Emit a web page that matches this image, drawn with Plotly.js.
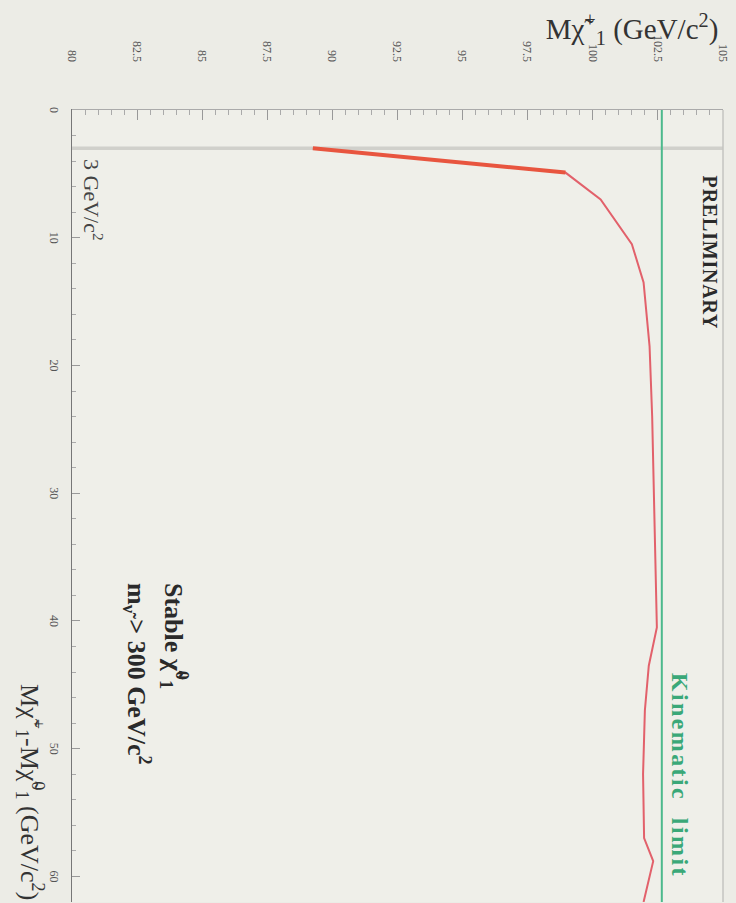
<!DOCTYPE html>
<html>
<head>
<meta charset="utf-8">
<script src="https://cdn.plot.ly/plotly-3.0.1.min.js"></script>
<style>
  html, body { margin: 0; padding: 0; width: 736px; height: 903px; overflow: hidden; background: #ecece6; }
  #chart { position: absolute; left: 0; top: 0; width: 903px; height: 736px;
           transform-origin: 0 0; transform: translate(736px, 0) rotate(90deg); }
  g.annotation[data-index="1"] text { letter-spacing: 2.4px; }
  g.annotation[data-index="0"] text { letter-spacing: 0.8px; }
</style>
</head>
<body>
<div id="chart"></div>
<script>
// Chargino mass limit vs. mass difference (stable neutralino, heavy sneutrino)
const dmLimit = [3.0, 4.9, 7.0, 10.5, 13.5, 18.5, 24.0, 30.0, 36.0, 40.5, 43.5, 47.0, 52.0, 57.0, 58.8, 62.0];
const mLimit  = [89.25, 98.95, 100.3, 101.5, 101.95, 102.18, 102.28, 102.34, 102.42, 102.46, 102.15, 102.0, 101.93, 101.97, 102.32, 101.95];
const dmCut = [3, 3];            // 3 GeV/c^2 line
const dmCutM = [80, 105];
const kinDM = [0, 62];           // kinematic limit line
const kinM = [102.65, 102.65];
const xTickVals = [0, 10, 20, 30, 40, 50, 60];
const yTickVals = [80, 82.5, 85, 87.5, 90, 92.5, 95, 97.5, 100, 102.5, 105];
const yTickText = ['80', '82.5', '85', '87.5', '90', '92.5', '95', '97.5', '100', '102.5', '105'];

const serif = 'Liberation Serif, Times New Roman, serif';

const traces = [
  { x: dmCut, y: dmCutM, mode: 'lines', line: { color: '#d0d0cb', width: 3.5 }, hoverinfo: 'skip' },
  { x: kinDM, y: kinM, mode: 'lines', line: { color: '#4cb98c', width: 2 }, hoverinfo: 'skip' },
  { x: dmLimit, y: mLimit, mode: 'lines', line: { color: '#e2616b', width: 2 }, hoverinfo: 'skip' },
  { x: dmLimit.slice(0, 2), y: mLimit.slice(0, 2), mode: 'lines', line: { color: '#e8553f', width: 4 }, hoverinfo: 'skip' }
];

const layout = {
  width: 903, height: 736,
  margin: { l: 110, r: 1, t: 13, b: 72 },
  paper_bgcolor: '#ecece6',
  plot_bgcolor: '#efefe9',
  showlegend: false,
  font: { family: serif, color: '#444' },
  xaxis: {
    range: [0, 62], tickvals: xTickVals, ticks: 'inside', ticklen: 8, tickcolor: '#999',
    minor: { dtick: 2, ticks: 'inside', ticklen: 4, tickcolor: '#aaa' },
    showgrid: false, zeroline: false, showline: true, linecolor: '#777', linewidth: 1.5,
    tickfont: { family: serif, size: 12, color: '#555' }, ticklabelstandoff: 6
  },
  yaxis: {
    range: [80, 105], tickvals: yTickVals, ticktext: yTickText, ticks: 'inside', ticklen: 10, tickcolor: '#999',
    minor: { dtick: 0.5, ticks: 'inside', ticklen: 5, tickcolor: '#aaa' },
    showgrid: false, zeroline: false, showline: true, linecolor: '#aaa', linewidth: 1.5,
    tickfont: { family: serif, size: 12, color: '#555' }, ticklabelstandoff: 44
  },
  shapes: [
    { type: 'line', xref: 'paper', yref: 'paper', x0: 0, x1: 1, y0: 1, y1: 1, line: { color: '#c4c4c0', width: 1.5 } }
  ],
  annotations: [
    { text: 'PRELIMINARY', x: 5.3, y: 104.5, xref: 'x', yref: 'y', xanchor: 'left', yanchor: 'middle', showarrow: false,
      font: { family: serif, size: 20, color: '#2a2a2a', weight: 'bold' } },
    { text: 'Kinematic  limit', x: 45.4, y: 103.35, xref: 'x', yref: 'y', xanchor: 'left', yanchor: 'middle', showarrow: false,
      font: { family: serif, size: 24, color: '#3aa878', weight: 'bold' } },
    { text: 'Stable χ&#771;<sup>0</sup><sub>1</sub>', x: 36.9, y: 83.9, xref: 'x', yref: 'y', xanchor: 'left', yanchor: 'middle', showarrow: false,
      font: { family: serif, size: 26, color: '#2a2a2a', weight: 'bold' } },
    { text: 'm<sub>ν&#771;</sub> > 300 GeV/c<sup>2</sup>', x: 36.9, y: 82.5, xref: 'x', yref: 'y', xanchor: 'left', yanchor: 'middle', showarrow: false,
      font: { family: serif, size: 26, color: '#2a2a2a', weight: 'bold' } },
    { text: '3 GeV/c<sup>2</sup>', x: 3.7, y: 80.8, xref: 'x', yref: 'y', xanchor: 'left', yanchor: 'middle', showarrow: false,
      font: { family: serif, size: 22, color: '#444' } },
    { text: 'Mχ&#771;<sup>+</sup><sub>1</sub> (GeV/c<sup>2</sup>)', xref: 'paper', yref: 'paper', x: -0.102, y: 0.996,
      xanchor: 'center', yanchor: 'top', textangle: -90, showarrow: false,
      font: { family: serif, size: 29, color: '#333' } },
    { text: 'Mχ&#771;<sup>+</sup><sub>1</sub>-Mχ&#771;<sup>0</sup><sub>1</sub> (GeV/c<sup>2</sup>)', xref: 'paper', yref: 'paper', x: 1.0, y: -0.065,
      xanchor: 'right', yanchor: 'middle', showarrow: false,
      font: { family: serif, size: 26, color: '#333' } }
  ]
};

Plotly.newPlot('chart', traces, layout, { displayModeBar: false, staticPlot: true });
</script>
</body>
</html>
